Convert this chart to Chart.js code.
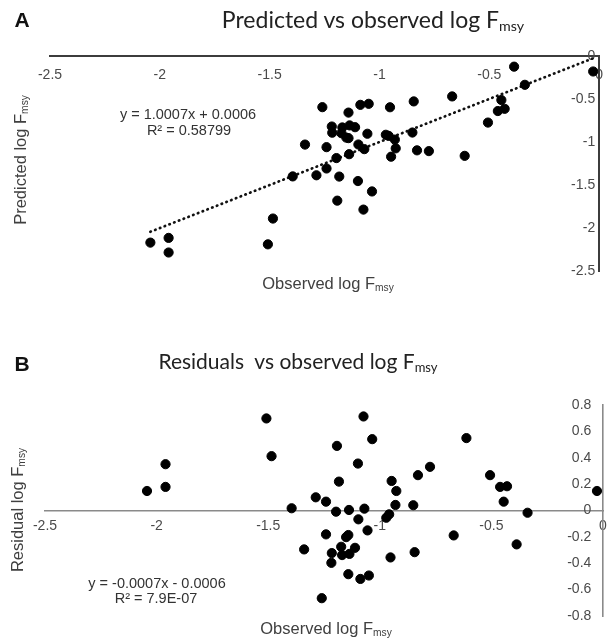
<!DOCTYPE html>
<html>
<head>
<meta charset="utf-8">
<script src="https://cdn.jsdelivr.net/npm/chart.js@4.4.1/dist/chart.umd.min.js"></script>
<style>
  html, body { margin:0; padding:0; background:#fff; }
  body { width:614px; height:640px; position:relative; overflow:hidden; font-family:"Liberation Sans", Arial, sans-serif; }
  canvas { position:absolute; left:0; }
  #cA { top:0; }
  #cB { top:300px; }
  .t { position:absolute; white-space:nowrap; transform:translate(-50%,-50%); line-height:1; }
  .panel { font-weight:bold; font-size:21px; color:#111; }
  .title { font-family:Lato, "Open Sans", sans-serif; color:#222; }
  .axt { font-size:16.5px; color:#404040; }
  .rot { transform:translate(-50%,-50%) rotate(-90deg); }
  .eq { font-size:14.5px; color:#333; text-align:center; }
  sub { font-size:0.62em; vertical-align:-0.25em; line-height:0; }
</style>
</head>
<body>
<canvas id="cA" width="614" height="300"></canvas>
<canvas id="cB" width="614" height="340"></canvas>

<div class="t panel" style="left:22px;top:19px;">A</div>
<div class="t title" style="left:373px;top:19px;font-size:23px;">Predicted vs observed log F<sub>msy</sub></div>
<div class="t axt rot" style="left:20px;top:160px;">Predicted log F<sub>msy</sub></div>
<div class="t axt" style="left:328px;top:283px;">Observed log F<sub>msy</sub></div>
<div class="t eq" style="left:188px;top:114px;">y = 1.0007x + 0.0006</div>
<div class="t eq" style="left:189px;top:130px;">R² = 0.58799</div>

<div class="t panel" style="left:22px;top:363px;">B</div>
<div class="t title" style="left:298px;top:360px;font-size:21px;">Residuals&nbsp; vs observed log F<sub>msy</sub></div>
<div class="t axt rot" style="left:17px;top:510px;">Residual log F<sub>msy</sub></div>
<div class="t axt" style="left:326px;top:628px;">Observed log F<sub>msy</sub></div>
<div class="t eq" style="left:157px;top:583px;">y = -0.0007x - 0.0006</div>
<div class="t eq" style="left:156px;top:598px;">R² = 7.9E-07</div>

<script>
// ---- data ----
const observed = [-2.043,-1.960,-1.960,-1.508,-1.485,-1.395,-1.339,-1.287,-1.260,-1.241,-1.241,-1.215,-1.217,-1.196,-1.192,-1.183,-1.173,-1.169,-1.151,-1.141,-1.141,-1.138,-1.136,-1.111,-1.098,-1.096,-1.087,-1.073,-1.069,-1.055,-1.049,-1.034,-0.971,-0.958,-0.952,-0.947,-0.930,-0.926,-0.850,-0.844,-0.829,-0.775,-0.669,-0.612,-0.506,-0.461,-0.430,-0.445,-0.387,-0.338,-0.027];
const predicted = [-2.170,-2.285,-2.115,-2.190,-1.890,-1.400,-1.030,-1.387,-0.595,-1.308,-1.060,-0.892,-0.820,-1.187,-1.682,-1.402,-0.898,-0.831,-0.949,-0.955,-0.658,-1.142,-0.807,-0.828,-1.454,-1.029,-0.568,-1.786,-1.083,-0.904,-0.556,-1.575,-0.916,-0.929,-0.596,-1.171,-0.972,-1.074,-0.890,-0.528,-1.097,-1.106,-0.470,-1.161,-0.774,-0.640,-0.614,-0.512,-0.124,-0.335,-0.180];
const residual = [0.148,0.351,0.179,0.698,0.412,0.017,-0.295,0.100,-0.665,0.067,-0.181,-0.323,-0.397,-0.009,0.490,0.219,-0.275,-0.338,-0.202,-0.186,-0.483,0.004,-0.329,-0.283,0.356,-0.067,-0.519,0.713,0.014,-0.151,-0.493,0.541,-0.055,-0.029,-0.356,0.224,0.042,0.148,0.040,-0.316,0.268,0.331,-0.189,0.549,0.268,0.179,0.184,0.067,-0.257,-0.017,0.148];
const trendX = [-2.043, -0.027];
const trendY = [-2.044, -0.026];
const xTicks = [-2.5, -2, -1.5, -1, -0.5, 0];
const yTicksA = [-2.5, -2, -1.5, -1, -0.5, 0];
const yTicksB = [-0.8, -0.6, -0.4, -0.2, 0, 0.2, 0.4, 0.6, 0.8];

const fmt = v => { const r = Math.round(v * 10) / 10; return (Math.abs(r) < 1e-9 ? 0 : r).toString(); };
const tickFont = { family: '"Liberation Sans", Arial, sans-serif', size: 14 };
const tickColor = '#4a4a4a';

function setTicks(arr) { return scale => { scale.ticks = arr.map(v => ({ value: v })); }; }

const common = {
  responsive: false,
  animation: false,
  events: [],
  plugins: { legend: { display: false }, tooltip: { enabled: false }, title: { display: false } }
};

// Chart A
new Chart(document.getElementById('cA'), {
  type: 'scatter',
  data: {
    datasets: [
      { data: observed.map((x, i) => ({ x: x, y: predicted[i] })), backgroundColor: '#000', borderColor: '#000', pointRadius: 4.6, pointHoverRadius: 4.6, clip: false },
      { type: 'line', data: trendX.map((x, i) => ({ x: x, y: trendY[i] })), borderColor: '#111', borderWidth: 2.7, borderDash: [0.5, 4.6], borderCapStyle: 'round', pointRadius: 0, fill: false, clip: false }
    ]
  },
  options: Object.assign({}, common, {
    layout: { padding: { left: 50, right: 7, top: 56, bottom: 29 } },
    scales: {
      x: { type: 'linear', min: -2.5, max: 0, position: { y: 0 },
           grid: { display: false, drawTicks: false }, border: { color: '#3c3c3c', width: 2 },
           afterBuildTicks: setTicks(xTicks),
           ticks: { padding: 11, color: tickColor, font: tickFont, callback: v => fmt(v) } },
      y: { type: 'linear', min: -2.5, max: 0, position: { x: 0 },
           grid: { display: false, drawTicks: false }, border: { color: '#3c3c3c', width: 2 },
           afterBuildTicks: setTicks(yTicksA),
           ticks: { color: tickColor, font: tickFont, callback: v => fmt(v) + ' ' } }
    }
  })
});

// Chart B
new Chart(document.getElementById('cB'), {
  type: 'scatter',
  data: {
    datasets: [
      { data: observed.map((x, i) => ({ x: x, y: residual[i] })), backgroundColor: '#000', borderColor: '#000', pointRadius: 4.6, pointHoverRadius: 4.6, clip: false }
    ]
  },
  options: Object.assign({}, common, {
    layout: { padding: { left: 45, right: 11, top: 105, bottom: 24 } },
    scales: {
      x: { type: 'linear', min: -2.5, max: 0, position: { y: 0 },
           grid: { display: false, drawTicks: false }, border: { color: '#8a8a8a', width: 1.6 },
           afterBuildTicks: setTicks(xTicks),
           ticks: { padding: 7, color: tickColor, font: tickFont, callback: v => fmt(v) } },
      y: { type: 'linear', min: -0.8, max: 0.8, position: { x: 0 },
           grid: { display: false, drawTicks: false }, border: { color: '#8a8a8a', width: 1.6 },
           afterBuildTicks: setTicks(yTicksB),
           ticks: { color: tickColor, font: tickFont, callback: v => fmt(v) + '   ' } }
    }
  })
});
</script>
</body>
</html>
